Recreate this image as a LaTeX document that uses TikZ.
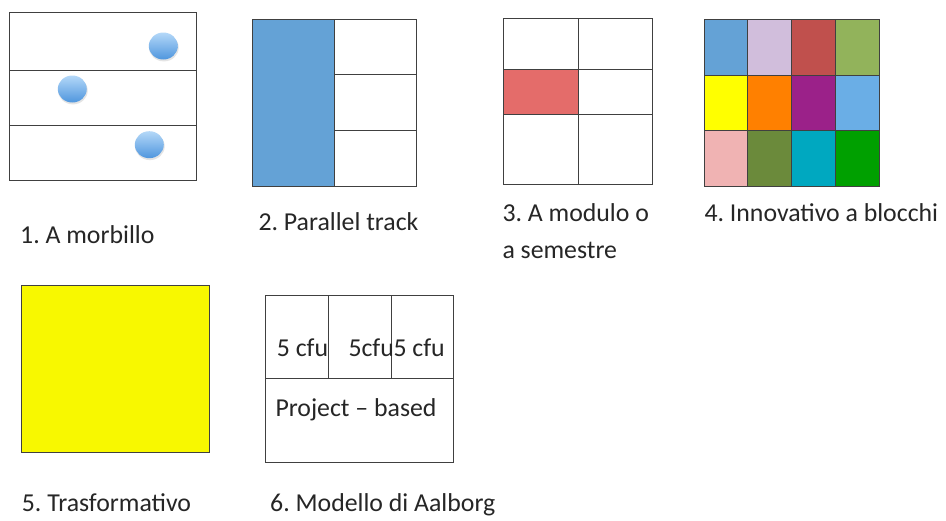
\documentclass[tikz,border=0pt]{standalone}
\usepackage{fontspec}
\setmainfont{Carlito}
\definecolor{cBlue}{HTML}{64A2D6}
\definecolor{cLav}{HTML}{D1BEDC}
\definecolor{cRed}{HTML}{C0504D}
\definecolor{cGreen}{HTML}{92B35B}
\definecolor{cYel}{HTML}{FFFF00}
\definecolor{cOra}{HTML}{FF8000}
\definecolor{cPur}{HTML}{9B2189}
\definecolor{cLBlue}{HTML}{6AAEE6}
\definecolor{cPink}{HTML}{F0B3B3}
\definecolor{cOlive}{HTML}{6B8A3B}
\definecolor{cTeal}{HTML}{00A8C0}
\definecolor{cDGreen}{HTML}{00A000}
\definecolor{cSalmon}{HTML}{E46C6A}
\definecolor{cYel5}{HTML}{F8F800}
\definecolor{dotTop}{HTML}{B4D8F8}
\definecolor{dotBot}{HTML}{4F96DE}
\begin{document}
\frenchspacing
\begin{tikzpicture}[x=1pt,y=-1pt,
  cell/.style={draw=black!75,line width=0.9pt},
  lbl/.style={anchor=base west,inner sep=0pt,font=\fontsize{25.8}{36}\selectfont,text=black!85},
  dotshadow/.style={fill=black!30,opacity=0.35}]
\useasboundingbox[fill=white] (0,0) rectangle (946,520);

% ---- 1. A morbillo
\draw[cell] (9,12.3) rectangle (196.7,180.7);
\draw[cell] (9,70.7) -- (196.7,70.7);
\draw[cell] (9,125.7) -- (196.7,125.7);
\foreach \cx/\cy in {163.3/46, 72.3/89, 149.3/144.7}{
  \fill[dotshadow] (\cx+0.6,\cy+1.6) ellipse [x radius=14.8, y radius=13.8];
  \shade[top color=dotTop,bottom color=dotBot] (\cx,\cy) ellipse [x radius=14.5, y radius=13.5];
}
\node[lbl] (t1) at (20,243) {1. A morbillo};

% ---- 2. Parallel track
\fill[cBlue] (252,19) rectangle (334.7,186.7);
\draw[cell] (252,19) rectangle (416.7,186.7);
\draw[cell] (334.7,19) -- (334.7,186.7);
\draw[cell] (334.7,74.7) -- (416.7,74.7);
\draw[cell] (334.7,130.7) -- (416.7,130.7);
\node[lbl] (t2) at (258.3,230) {2. Parallel track};

% ---- 3. A modulo o a semestre
\fill[cSalmon] (503.3,69.7) rectangle (578,114);
\draw[cell] (503.3,18.3) rectangle (652.3,184.3);
\draw[cell] (578,18.3) -- (578,184.3);
\draw[cell] (503.3,69.7) -- (652.3,69.7);
\draw[cell] (503.3,114) -- (652.3,114);
\node[lbl] (t3a) at (502.3,221.7) {3. A modulo o};
\node[lbl] (t3b) at (502.3,258) {a semestre};

% ---- 4. Innovativo a blocchi
\def\ya{19}\def\yb{75}\def\yc{130.3}\def\yd{186.7}
\foreach \xl/\xr/\ca/\cb/\cc in {704/747.7/cBlue/cYel/cPink, 747.7/791.7/cLav/cOra/cOlive, 791.7/835.7/cRed/cPur/cTeal, 835.7/879.3/cGreen/cLBlue/cDGreen}{
  \draw[cell,fill=\ca] (\xl,\ya) rectangle (\xr,\yb);
  \draw[cell,fill=\cb] (\xl,\yb) rectangle (\xr,\yc);
  \draw[cell,fill=\cc] (\xl,\yc) rectangle (\xr,\yd);
}
\node[lbl] (t4) at (704.3,221.7) {4. Innovativo a blocchi};

% ---- 5. Trasformativo
\draw[cell,fill=cYel5] (21.7,285) rectangle (209.3,452.7);
\node[lbl] (t5) at (21.7,511) {5. Trasformativo};

% ---- 6. Modello di Aalborg
\draw[cell] (265.7,295) rectangle (453.3,462.3);
\draw[cell] (265.7,378.7) -- (453.3,378.7);
\draw[cell] (328.3,295) -- (328.3,378.7);
\draw[cell] (391,295) -- (391,378.7);
\node[lbl] (c1) at (276.7,356.7) {5 cfu};
\node[lbl] (c2) at (348.3,356.7) {5cfu};
\node[lbl] (c3) at (393.3,356.7) {5 cfu};
\node[lbl] (pb) at (275.3,416.7) {Project – based};
\node[lbl] (t6) at (270,511) {6. Modello di Aalborg};
\end{tikzpicture}
\end{document}
